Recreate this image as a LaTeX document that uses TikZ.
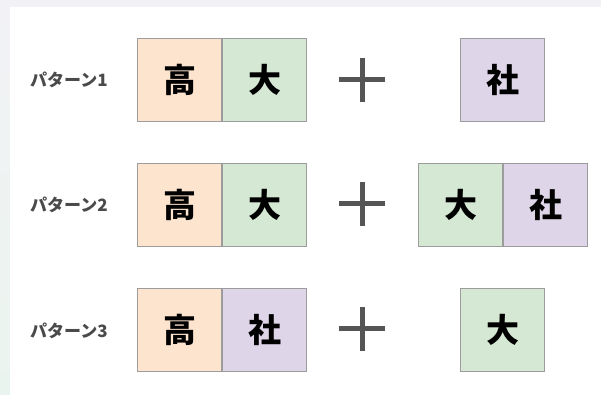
\documentclass[tikz,border=0pt]{standalone}
\usepackage{fontspec}
\newfontfamily\jp{Noto Sans CJK JP}
\definecolor{peach}{HTML}{FDE4CE}
\definecolor{mint}{HTML}{D5E8D4}
\definecolor{lav}{HTML}{DFD5E8}
\definecolor{boxgray}{HTML}{9C9C9C}
\definecolor{plusgray}{HTML}{555555}
\definecolor{labgray}{HTML}{4A4A4A}
\definecolor{bgtop}{HTML}{F2F2F6}
\definecolor{bgbot}{HTML}{EAF4EE}
\begin{document}
\begin{tikzpicture}[x=1pt,y=-1pt,
  cell/.style={draw=boxgray, line width=1.2pt, minimum width=84pt, minimum height=83pt,
    inner sep=0pt, anchor=north west, font=\jp\bfseries\fontsize{33}{33}\selectfont, text=black},
  lab/.style={anchor=west, inner sep=0pt, text=labgray, font=\jp\bfseries\fontsize{17}{17}\selectfont},
  plusline/.style={draw=plusgray, line width=5pt}]
\useasboundingbox (0,0) rectangle (601,394);
\shade[top color=bgtop, bottom color=bgbot] (0,0) rectangle (601,394);
\fill[white] (10,7) rectangle (602,395);
% row 1
\node[lab] (l1) at (30,80) {パターン1};
\node[cell, fill=peach] (a1) at (137,38) {高};
\node[cell, fill=mint] (b1) at (a1.north east) {大};
\node[cell, fill=lav] (c1) at (460,38) {社};
\coordinate (p1) at (362,79.5);
\draw[plusline] ([xshift=-23pt]p1) -- ([xshift=23pt]p1);
\draw[plusline] ([yshift=-22pt]p1) -- ([yshift=22pt]p1);
% row 2
\node[lab] (l2) at (30,205) {パターン2};
\node[cell, fill=peach] (a2) at (137,163) {高};
\node[cell, fill=mint] (b2) at (a2.north east) {大};
\node[cell, fill=mint] (c2) at (418,163) {大};
\node[cell, fill=lav] (d2) at (c2.north east) {社};
\coordinate (p2) at (362,203.5);
\draw[plusline] ([xshift=-23pt]p2) -- ([xshift=23pt]p2);
\draw[plusline] ([yshift=-22pt]p2) -- ([yshift=22pt]p2);
% row 3
\node[lab] (l3) at (30,331) {パターン3};
\node[cell, fill=peach] (a3) at (137,288) {高};
\node[cell, fill=lav] (b3) at (a3.north east) {社};
\node[cell, fill=mint] (c3) at (460,288) {大};
\coordinate (p3) at (362,328.5);
\draw[plusline] ([xshift=-23pt]p3) -- ([xshift=23pt]p3);
\draw[plusline] ([yshift=-22pt]p3) -- ([yshift=22pt]p3);
\end{tikzpicture}
\end{document}
